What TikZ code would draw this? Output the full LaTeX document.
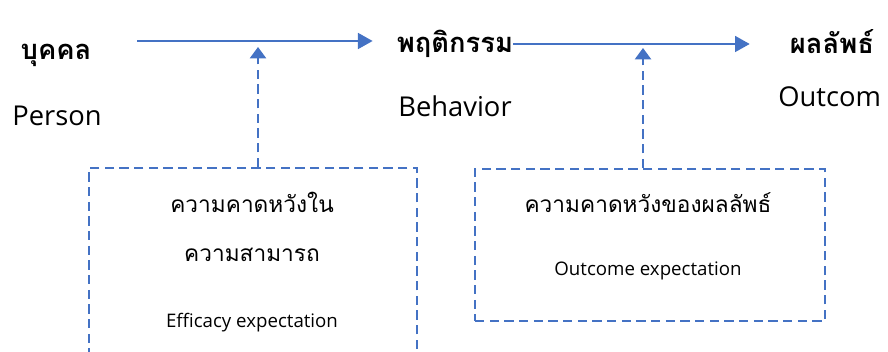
\documentclass[tikz,border=0pt]{standalone}
\usepackage{fontspec}
\setmainfont{Open Sans}
\newfontfamily\thaifont[Script=Thai]{Loma}
\usetikzlibrary{arrows.meta,positioning}
\definecolor{lineblue}{HTML}{4472C4}

\begin{document}
\begin{tikzpicture}[x=0.75pt,y=-0.75pt,>={Triangle[length=11pt,width=12pt]}]
\tikzstyle{lnk}=[draw=lineblue,line width=1.2pt]
\tikzstyle{dsh}=[draw=lineblue,line width=1.7pt,dash pattern=on 7pt off 4pt]
\tikzstyle{bigth}=[inner sep=0pt,font=\thaifont\bfseries\fontsize{20.5}{24}\selectfont]
\tikzstyle{bigen}=[inner sep=0pt,font=\fontsize{20.5}{24}\selectfont]
\tikzstyle{boxth}=[inner sep=0pt,font=\thaifont\fontsize{17}{21}\selectfont]
\tikzstyle{boxen}=[inner sep=0pt,font=\fontsize{14}{17}\selectfont]
\tikzstyle{expbox}=[dsh,minimum width=328*0.75pt,inner sep=0pt]
\useasboundingbox (0,0) rectangle (888,352);
\clip (0,0) rectangle (888,352);
% top row
\node[bigth] (persth) at (56,55) {บุคคล};
\node[bigen] (persen) at (57,116) {Person};
\node[bigth] (behth) at (455,44) {พฤติกรรม};
\node[bigen] (behen) at (455,106) {Behavior};
\node[bigth] (outth) at (832,42) {ผลลัพธ์};
\node[bigen, anchor=west] (outen) at (778,97) {Outcom};
\coordinate (pstart) at (137,41);
\draw[lnk,->] (pstart) -- ([xshift=-18pt]pstart -| behth.west);
\draw[lnk,->] (behth.east) -- ([xshift=-30pt]behth.east -| outth.west);
% expectation boxes
\node[expbox,minimum height=205*0.75pt,anchor=north west] (effbox) at (88,167) {};
\node[expbox,minimum width=350*0.75pt,minimum height=152*0.75pt,anchor=north west] (outbox) at (474,168) {};
\node[boxth] (efft1) at (252,202) {ความคาดหวังใน};
\node[boxth] (efft2) at (252,255) {ความสามารถ};
\node[boxen] (effen) at (252,323) {Efficacy expectation};
\node[boxth] (outt) at (648,203) {ความคาดหวังของผลลัพธ์};
\node[boxen] (outexp) at (648,271) {Outcome expectation};
\coordinate (effhit) at (258,47);
\coordinate (outhit) at (643,48);
\draw[dsh,-{Triangle[length=8.5pt,width=12pt]}] (effbox.north -| effhit) -- (effhit);
\draw[dsh,-{Triangle[length=8.5pt,width=12pt]}] (outbox.north -| outhit) -- (outhit);
\end{tikzpicture}
\end{document}
